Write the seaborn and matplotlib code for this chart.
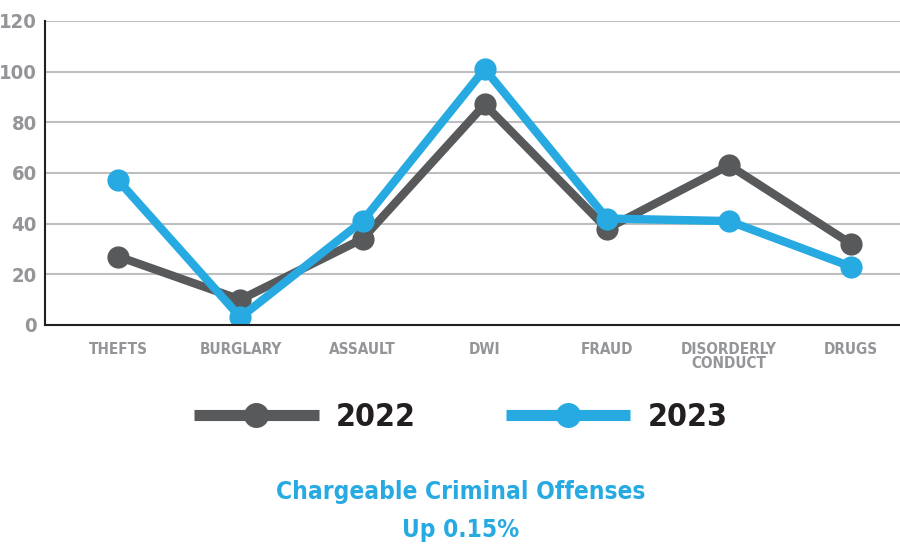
import matplotlib
matplotlib.use("Agg")
import matplotlib.pyplot as plt
import seaborn as sns
import pandas as pd

categories = ["THEFTS", "BURGLARY", "ASSAULT", "DWI", "FRAUD", "DISORDERLY\nCONDUCT", "DRUGS"]
values_2022 = [27, 10, 34, 87, 38, 63, 32]
values_2023 = [57, 3, 41, 101, 42, 41, 23]
years = ["2022", "2023"]
y_ticks = [0, 20, 40, 60, 80, 100, 120]

GRAY = "#58595b"
BLUE = "#27aae1"
TICK = "#939598"

df = pd.DataFrame({
    "category": categories * 2,
    "value": values_2022 + values_2023,
    "year": [years[0]] * len(categories) + [years[1]] * len(categories),
})

sns.set_style("white")
plt.rcParams["font.family"] = ["DejaVu Sans"]

fig = plt.figure(figsize=(9, 5.48), dpi=100)
ax = fig.add_axes([0.05, 0.407, 0.95, 0.555])

sns.lineplot(data=df, x="category", y="value", hue="year", palette=[GRAY, BLUE],
             marker="o", markersize=16, linewidth=6, markeredgewidth=0,
             sort=False, ax=ax, legend=True)

ax.set_xlim(-0.6, 6.4)
ax.set_ylim(0, 120)
ax.set_yticks(y_ticks)
ax.set_xlabel("")
ax.set_ylabel("")
ax.yaxis.grid(True, color="#bcbec0", linewidth=1.5)
ax.set_axisbelow(True)
for s in ["top", "right"]:
    ax.spines[s].set_visible(False)
for s in ["left", "bottom"]:
    ax.spines[s].set_color("#231f20")
    ax.spines[s].set_linewidth(1.5)
ax.tick_params(axis="both", length=0)
ax.tick_params(axis="y", pad=6, labelsize=14.5, labelcolor=TICK)
ax.tick_params(axis="x", pad=12, labelsize=11, labelcolor=TICK)
for lab in ax.get_yticklabels() + ax.get_xticklabels():
    lab.set_fontweight("bold")
    lab.set_fontstretch("condensed")
for lab in ax.get_xticklabels():
    lab.set_linespacing(0.95)

handles, labels = ax.get_legend_handles_labels()
ax.get_legend().remove()
leg = fig.legend(handles, labels, loc="center", bbox_to_anchor=(0.512, 1 - 418 / 548),
                 ncol=2, frameon=False, handlelength=3.9, handletextpad=0.55,
                 columnspacing=2.8, prop={"size": 23, "weight": "bold", "stretch": "condensed"})
for h in leg.legend_handles:
    h.set_linewidth(8)
    h.set_markersize(18)
    h.set_solid_capstyle("butt")
for t in leg.get_texts():
    t.set_color("#231f20")

fig.text(0.512, 1 - 492 / 548, "Chargeable Criminal Offenses", ha="center", va="center",
         color=BLUE, fontsize=17.6, fontweight="bold", fontstretch="condensed")
fig.text(0.512, 1 - 530 / 548, "Up 0.15%", ha="center", va="center",
         color=BLUE, fontsize=17.6, fontweight="bold", fontstretch="condensed")

fig.savefig("out.png", dpi=100)
